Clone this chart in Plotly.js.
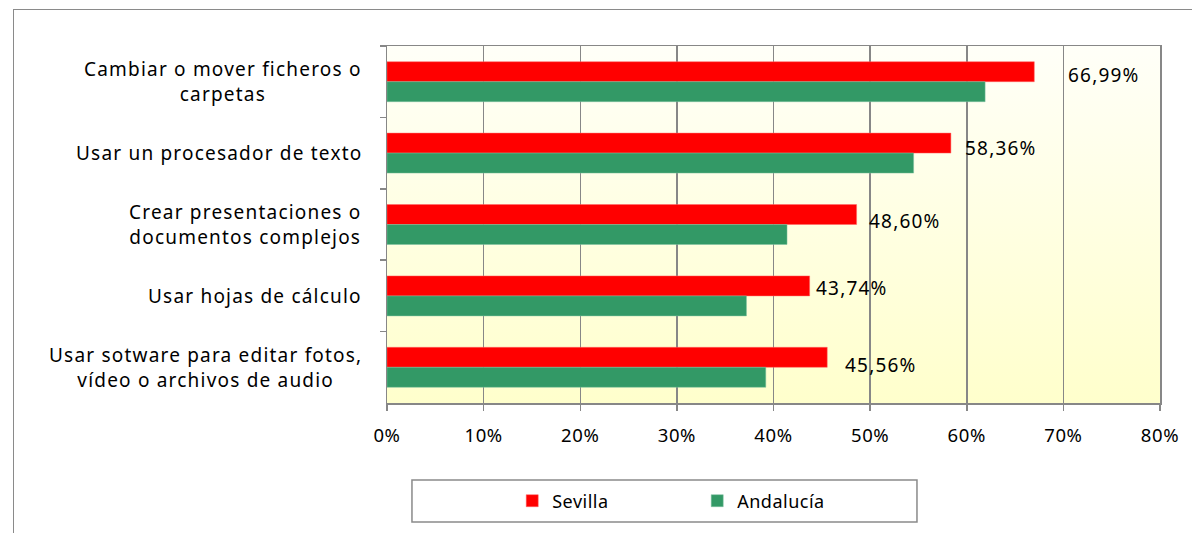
<!DOCTYPE html>
<html>
<head>
<meta charset="utf-8">
<script src="https://cdn.plot.ly/plotly-3.0.1.min.js"></script>
<style>
  html, body { margin: 0; padding: 0; background: #ffffff; width: 1192px; height: 533px; overflow: hidden; }
  #frame { position: absolute; left: 13px; top: 9px; width: 1300px; height: 700px; border: 1px solid #8a8a8a; box-sizing: border-box; }
  #bg { position: absolute; left: 387px; top: 46px; width: 773px; height: 357px; background: linear-gradient(to bottom, #fffff8 0%, #ffffcc 100%); }
  #chart { position: absolute; left: 0; top: 0; width: 1192px; height: 533px; }
  text.annotation-text { letter-spacing: 1.2px; }
  text.legendtext { letter-spacing: 0.5px; }
  .xtick text { letter-spacing: 0.6px; }
</style>
</head>
<body>
<div id="frame"></div>
<div id="bg"></div>
<div id="chart"></div>
<script>
const categories = [
  "Cambiar o mover ficheros o<br>carpetas",
  "Usar un procesador de texto",
  "Crear presentaciones o<br>documentos complejos",
  "Usar hojas de cálculo",
  "Usar sotware para editar fotos,<br>vídeo o archivos de audio"
];
const sevilla = [66.99, 58.36, 48.60, 43.74, 45.56];
const andalucia = [61.9, 54.5, 41.4, 37.2, 39.2];
const tickValues = [0, 10, 20, 30, 40, 50, 60, 70, 80];
const tickLabels = ["0%", "10%", "20%", "30%", "40%", "50%", "60%", "70%", "80%"];

const FONT = "Noto Sans, Open Sans, sans-serif";
const labelShiftX = [32, 12, 10, 4, 16];
const labelShiftY = [7, 5, 4, 8, 2];

const traces = [
  { type: "bar", orientation: "h", name: "Sevilla", y: categories, x: sevilla,
    marker: { color: "#ff0000", line: { color: "#ff6666", width: 0.5 } }, hoverinfo: "x" },
  { type: "bar", orientation: "h", name: "Andalucía", y: categories, x: andalucia,
    marker: { color: "#339966", line: { color: "#7fc0a0", width: 0.5 } }, hoverinfo: "x" }
];

const annotations = [];
categories.forEach((c, i) => {
  annotations.push({
    x: 0, xref: "paper", y: c, yref: "y", xanchor: "right", xshift: -23,
    text: c, showarrow: false, align: "center",
    font: { family: FONT, size: 19, color: "#000" }
  });
  annotations.push({
    x: sevilla[i], xref: "x", y: c, yref: "y", xanchor: "left", xshift: labelShiftX[i], yshift: labelShiftY[i],
    text: sevilla[i].toFixed(2).replace(".", ",") + "%", showarrow: false,
    font: { family: FONT, size: 19, color: "#000" }
  });
});

const layout = {
  width: 1192, height: 533,
  margin: { l: 387, r: 32, t: 46, b: 130 },
  paper_bgcolor: "rgba(0,0,0,0)",
  plot_bgcolor: "rgba(0,0,0,0)",
  barmode: "group",
  bargap: 0.44,
  bargroupgap: 0,
  font: { family: FONT, size: 18, color: "#000" },
  xaxis: {
    range: [0, 80], tickvals: tickValues, ticktext: tickLabels,
    showgrid: true, gridcolor: "#878787", gridwidth: 1.5,
    showline: true, linecolor: "#878787", linewidth: 1.5, mirror: true,
    ticks: "outside", ticklen: 6, tickcolor: "#878787", tickwidth: 1.5,
    ticklabelstandoff: 9,
    zeroline: false, fixedrange: true,
    tickfont: { family: FONT, size: 18.5, color: "#000" }
  },
  yaxis: {
    autorange: "reversed", type: "category",
    showticklabels: false, showgrid: false,
    showline: true, linecolor: "#878787", linewidth: 1.5, mirror: true,
    ticks: "outside", tickson: "boundaries", ticklen: 6, tickcolor: "#878787", tickwidth: 1.5,
    fixedrange: true
  },
  showlegend: true,
  legend: {
    orientation: "h", x: 0.162, xanchor: "left", y: -0.2745, yanchor: "middle",
    bgcolor: "rgba(0,0,0,0)", borderwidth: 0,
    entrywidth: 140, entrywidthmode: "pixels",
    font: { family: FONT, size: 18, color: "#000" }
  },
  shapes: [{
    type: "rect", xref: "paper", yref: "paper",
    x0: 0.0323, x1: 0.6856, y0: -0.2157, y1: -0.3333,
    line: { color: "#8a8a8a", width: 1.5 }, fillcolor: "rgba(0,0,0,0)"
  }],
  annotations: annotations
};

Plotly.newPlot("chart", traces, layout, { displayModeBar: false, staticPlot: true });
</script>
</body>
</html>
